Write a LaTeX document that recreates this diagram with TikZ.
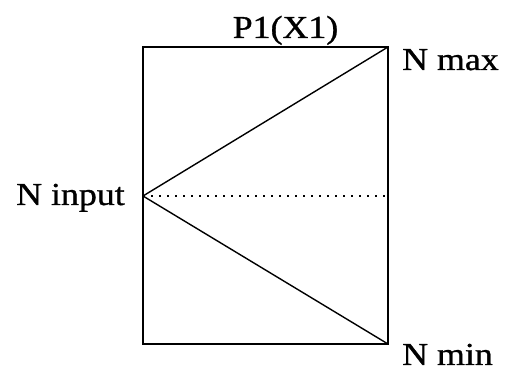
\documentclass[tikz,border=0pt]{standalone}
\usepackage{fontspec}
\setmainfont{Liberation Serif}[FakeStretch=1.12,FakeBold=1]
\begin{document}
\begin{tikzpicture}[x=1pt,y=-1pt,
  lbl/.style={inner sep=0pt,font=\fontsize{32}{36}\selectfont},
  frame/.style={line width=2pt},
  ray/.style={line width=1.4pt},
  dots/.style={line width=1.6pt,dash pattern=on 1.6pt off 6.4pt}]
\useasboundingbox (0,0) rectangle (507,371);
\coordinate (tl) at (143,47);
\coordinate (tr) at (388,47);
\coordinate (bl) at (143,344);
\coordinate (br) at (388,344);
\coordinate (in) at (143,196);
\coordinate (mid) at (385,196);
\draw[frame] (tl) rectangle (br);
\draw[ray] (in) -- (tr);
\draw[ray] (in) -- (br);
\draw[dots] (in) -- (mid);
\node[lbl,anchor=base] (p) at (285.5,38) {P1(X1)};
\node[lbl,anchor=base west] (nmax) at (402,70) {N max};
\node[lbl,anchor=base west] (nin) at (16,205) {N input};
\node[lbl,anchor=base west] (nmin) at (402,365) {N min};
\end{tikzpicture}
\end{document}
